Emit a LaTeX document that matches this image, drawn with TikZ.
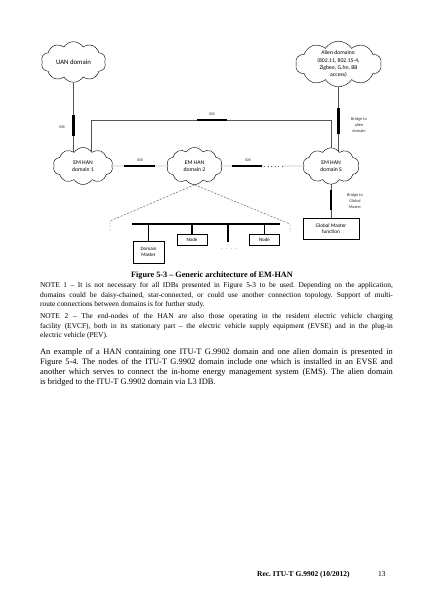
\documentclass[tikz,border=0pt]{standalone}
\usepackage{fontspec}
\setmainfont{Liberation Serif}
\newfontfamily\diagfont{Carlito}
\usetikzlibrary{shapes.symbols,positioning,backgrounds}
\definecolor{linegray}{RGB}{85,85,85}
\tikzstyle{domcloud} = [cloud, cloud puffs=10, cloud puff arc=115, aspect=1.6,
  draw=black, fill=white, line width=0.6pt, inner sep=0pt, align=center,
  font=\diagfont\fontsize{8}{9.5}\selectfont]
\tikzstyle{plainbox} = [draw=black, fill=white, line width=0.7pt, align=center,
  inner sep=0pt, font=\diagfont\fontsize{7}{8.5}\selectfont]
\tikzstyle{link} = [draw=linegray, line width=0.6pt]
\tikzstyle{thickseg} = [draw=black, line width=3.5pt]
\tikzstyle{bus} = [draw=black, line width=2.2pt]
\tikzstyle{drop} = [draw=black, line width=1.5pt]
\tikzstyle{smalllbl} = [font=\diagfont\fontsize{5.5}{6.8}\selectfont, align=center,
  inner sep=0pt, text=black!80]
\tikzstyle{para} = [anchor=north west, inner sep=0pt, text width=495pt,
  align=justify]

\begin{document}
\frenchspacing
\begin{tikzpicture}[x=1.4033pt, y=-1.4033pt]
    \useasboundingbox (0,0) rectangle (424,600);

    % domains
    \node[domcloud, minimum width=91pt, minimum height=57pt,
    font=\diagfont\fontsize{9.5}{11}\selectfont] (uan) at (73.5,62) {UAN domain};
    \node[domcloud, minimum width=121pt, minimum height=64pt,
    font=\diagfont\fontsize{8}{10}\selectfont] (alien) at (338.5,64)
    {Alien domains:\\(802.11, 802.15-4,\\Zigbee, G.hn, BB\\access)};
    \node[domcloud, minimum width=84pt, minimum height=52pt] (dom1) at (83,166)
    {EM HAN\\domain 1};
    \node[domcloud, minimum width=78pt, minimum height=52pt] (dom2) at (194.5,166)
    {EM HAN\\domain 2};
    \node[domcloud, minimum width=79pt, minimum height=51pt] (domS) at (331,166)
    {EM HAN\\domain S};
    \node[plainbox, minimum width=79pt, minimum height=29pt,
    font=\diagfont\fontsize{7.5}{9}\selectfont] (gm) at (331,228.5)
    {Global Master\\function};

    % links behind the clouds
    \begin{scope}[on background layer]
      \coordinate (topL) at (91,120);
      \coordinate (topR) at (domS |- topL);
      \draw[link] (uan) -- (uan |- dom1);
      \draw[link] (topL |- dom1) -- (topL) -- (topR) -- (domS);
      \draw[link] (alien) -- (alien |- domS);
      \draw[link] (dom1) -- (dom2);
      \coordinate (gapL) at (264,166);
      \coordinate (gapR) at (283,166);
      \draw[link] (dom2) -- (gapL);
      \draw[link, dash pattern=on 1pt off 4pt] (gapL) -- (gapR);
      \draw[link] (gapR) -- (domS);
      \draw[link] (domS) -- (gm);
    \end{scope}

    % thick interface segments
    \coordinate (inbA) at (73.5,115);
    \coordinate (inbB) at (73.5,136);
    \draw[thickseg] (inbA) -- (inbB);
    \node[smalllbl] (inblbl) at (62,127) {INB};
    \coordinate (topA) at (197,120);
    \coordinate (topB) at (227,120);
    \draw[thickseg] (topA) -- (topB);
    \node[smalllbl] (idbtop) at (212,114) {IDB};
    \coordinate (alienA) at (338.5,108);
    \coordinate (alienB) at (338.5,134);
    \draw[thickseg] (alienA) -- (alienB);
    \node[smalllbl, font=\diagfont\fontsize{6}{7.8}\selectfont] (alienlbl) at (359,125)
    {Bridge to\\alien\\domain};
    \coordinate (d12A) at (124,166);
    \coordinate (d12B) at (155,166);
    \draw[thickseg] (d12A) -- (d12B);
    \node[smalllbl] (idb12) at (140,160) {IDB};
    \coordinate (d2SA) at (232,166);
    \coordinate (d2SB) at (262,166);
    \draw[thickseg] (d2SA) -- (d2SB);
    \node[smalllbl] (idb2S) at (248,160) {IDB};
    \coordinate (gmA) at (331,190);
    \coordinate (gmB) at (331,210);
    \draw[thickseg] (gmA) -- (gmB);
    \node[smalllbl, font=\diagfont\fontsize{6}{7.8}\selectfont] (gmlbl) at (355,201)
    {Bridge to\\Global\\Master};

    % inside of domain 2
    \coordinate (zoomL) at (110,221);
    \coordinate (zoomLend) at (110,231);
    \coordinate (zoomR) at (290,224);
    \coordinate (zoomRend) at (290,232);
    \draw[link, dash pattern=on 3pt off 2pt] (dom2.south) -- (zoomL) -- (zoomLend);
    \draw[link, dash pattern=on 3pt off 2pt] (dom2.south) -- (zoomR) -- (zoomRend);

    \coordinate (busL) at (132,224);
    \coordinate (busR) at (280,224);
    \node[plainbox, minimum width=43pt, minimum height=31pt] (dm) at (148.5,252)
    {Domain\\Master};
    \node[plainbox, minimum width=42pt, minimum height=16pt] (node1) at (192,239.5)
    {Node};
    \node[plainbox, minimum width=42pt, minimum height=16pt] (node2) at (264.5,239.5)
    {Node};
    \coordinate (drop3) at (228,242);
    \draw[bus] (busL) -- (busR);
    \draw[drop] (dm |- busL) -- (dm.north);
    \draw[drop] (node1 |- busL) -- (node1.north);
    \draw[drop] (drop3 |- busL) -- (drop3);
    \draw[drop] (node2 |- busL) -- (node2.north);
    \node[smalllbl, font=\diagfont\fontsize{7}{8}\selectfont] (busdots) at (229,249)
    {.\hspace{5pt}.\hspace{5pt}.\hspace{5pt}.};

    % caption and text
    \node[inner sep=0pt, font=\bfseries\fontsize{11.5}{13}\selectfont] (caption)
    at (212,275.5) {Figure 5-3 – Generic architecture of EM-HAN};

    \node[para, font=\fontsize{10.4}{13.75}\selectfont] (note1) at (40,282)
    {NOTE 1 – It is not necessary for all IDBs presented in Figure 5-3 to be used.
    Depending on the application,\linebreak domains could be daisy-chained,
    star-connected, or could use another connection topology. Support of
    multi-\linebreak route connections between domains is for further study.};

    \node[para, font=\fontsize{10.4}{13.75}\selectfont, below=6pt of note1.south west,
    anchor=north west] (note2)
    {NOTE 2 – The end-nodes of the HAN are also those operating in the resident
    electric vehicle charging\linebreak facility (EVCF), both in its stationary part
    – the electric vehicle supply equipment (EVSE) and in the plug-in\linebreak
    electric vehicle (PEV).};

    \node[para, font=\fontsize{11.8}{13.8}\selectfont] (example) at (40,348.5)
    {An example of a HAN containing one ITU-T G.9902 domain and one alien domain is
    presented in\linebreak Figure 5-4. The nodes of the ITU-T G.9902 domain include
    one which is installed in an EVSE and\linebreak another which serves to connect
    the in-home energy management system (EMS). The alien domain\linebreak is
    bridged to the ITU-T G.9902 domain via L3 IDB.};

    % footer
    \node[anchor=base west, inner sep=0pt, font=\bfseries\fontsize{10.5}{12}\selectfont]
    (recref) at (257,576.5) {Rec. ITU-T G.9902 (10/2012)};
    \node[anchor=base west, inner sep=0pt, font=\fontsize{10.5}{12}\selectfont]
    (pageno) at (378,576.5) {13};
\end{tikzpicture}
\end{document}
